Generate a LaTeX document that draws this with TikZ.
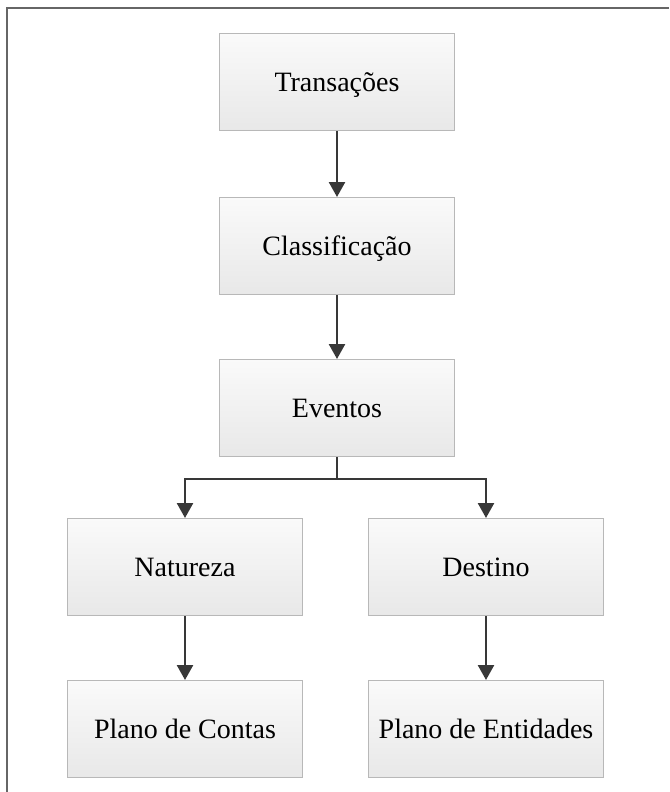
\documentclass[tikz,border=0pt]{standalone}
\usepackage{fontspec}
\setmainfont{Liberation Serif}
\usetikzlibrary{arrows.meta}
\begin{document}
\begin{tikzpicture}[x=1pt,y=-1pt,
  box/.style={draw=black!28, line width=1pt, top color=white!98!black, bottom color=black!9,
    minimum width=235pt, minimum height=97pt, inner sep=0pt,
    text height=19pt, text depth=0pt,
    font=\fontsize{28}{32}\selectfont},
  conn/.style={draw=black!78, line width=2.5pt, -{Triangle[width=16pt,length=15pt]}},
  frame/.style={draw=black!60, line width=1.5pt}]
\useasboundingbox (0,0) rectangle (669,792);
\coordinate (fa) at (669,8);
\coordinate (fb) at (7,8);
\coordinate (fc) at (7,792);
\draw[frame] (fa) -- (fb) -- (fc);
\node[box] (t) at (337,82) {Transações};
\node[box] (c) at (337,246) {Classificação};
\node[box] (e) at (337,408) {Eventos};
\node[box] (n) at (185,567) {Natureza};
\node[box] (d) at (486,567) {Destino};
\node[box] (pc) at (185,729) {Plano de Contas};
\node[box] (pe) at (486,729) {Plano de Entidades};
\coordinate (j) at (337,479);
\draw[conn] (t) -- (c);
\draw[conn] (c) -- (e);
\draw[conn] (e.south) -- (j) -| (n.north);
\draw[conn] (e.south) -- (j) -| (d.north);
\draw[conn] (n) -- (pc);
\draw[conn] (d) -- (pe);
\end{tikzpicture}
\end{document}
